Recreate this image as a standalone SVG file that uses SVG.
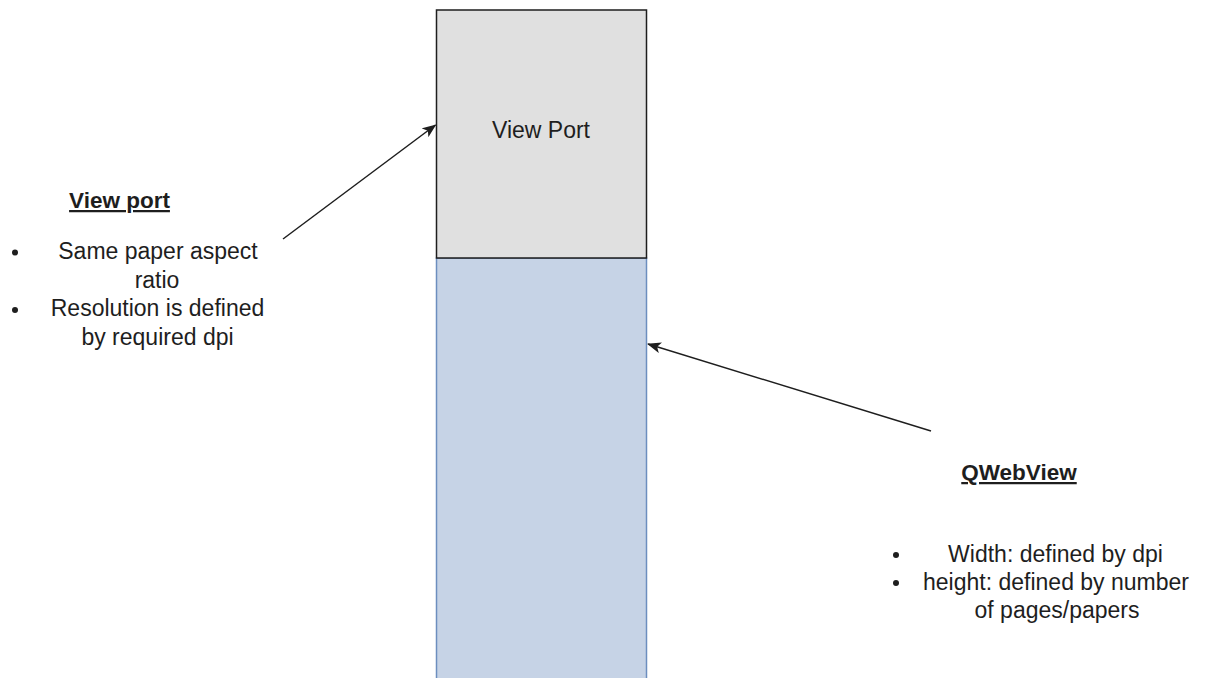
<svg xmlns="http://www.w3.org/2000/svg" width="1206" height="678" viewBox="0 0 1206 678">
  <style>
    .txt { font-family: "Liberation Sans", Arial, sans-serif; font-size: 23px; fill: #1e1e1e; text-anchor: middle; }
    .title { font-weight: bold; font-size: 22.5px; text-decoration: underline; }
    .bullet { fill: #1e1e1e; }
    .conn { stroke: #1e1e1e; stroke-width: 1.5; fill: none; }
  </style>
  <defs>
    <marker id="arrow" viewBox="0 0 14 11" refX="13" refY="5.5" markerWidth="14" markerHeight="11" markerUnits="userSpaceOnUse" orient="auto">
      <path d="M0,0 L14,5.5 L0,11 L3.5,5.5 Z" fill="#1e1e1e"/>
    </marker>
  </defs>
  <rect width="1206" height="678" fill="#ffffff"/>

  <!-- page area rendered by the web view -->
  <g id="qwebview-box">
    <rect x="436.5" y="258" width="210" height="440" fill="#c6d3e6" stroke="#6c8ebf" stroke-width="1.5"/>
  </g>

  <!-- visible viewport -->
  <g id="viewport-box">
    <rect x="436.5" y="10" width="210" height="248" fill="#e0e0e0" stroke="#1e1e1e" stroke-width="1.5"/>
    <text class="txt" x="541" y="138">View Port</text>
  </g>

  <!-- viewport notes -->
  <g id="viewport-notes">
    <text class="txt title" x="119.5" y="208">View port</text>
    <circle class="bullet" cx="15" cy="252.5" r="3"/>
    <text class="txt" x="158" y="259">Same paper aspect</text>
    <text class="txt" x="157" y="287.5">ratio</text>
    <circle class="bullet" cx="15" cy="310" r="3"/>
    <text class="txt" x="157.5" y="316">Resolution is defined</text>
    <text class="txt" x="157.5" y="344.5">by required dpi</text>
  </g>

  <!-- web view notes -->
  <g id="qwebview-notes">
    <text class="txt title" x="1019" y="480">QWebView</text>
    <circle class="bullet" cx="896" cy="555" r="3"/>
    <text class="txt" x="1055.5" y="562">Width: defined by dpi</text>
    <circle class="bullet" cx="896" cy="583" r="3"/>
    <text class="txt" x="1056" y="590">height: defined by number</text>
    <text class="txt" x="1057" y="618">of pages/papers</text>
  </g>

  <!-- connectors -->
  <g id="connectors">
    <line class="conn" x1="283" y1="239" x2="435.5" y2="125" marker-end="url(#arrow)"/>
    <line class="conn" x1="931" y1="431" x2="648" y2="344" marker-end="url(#arrow)"/>
  </g>
</svg>
